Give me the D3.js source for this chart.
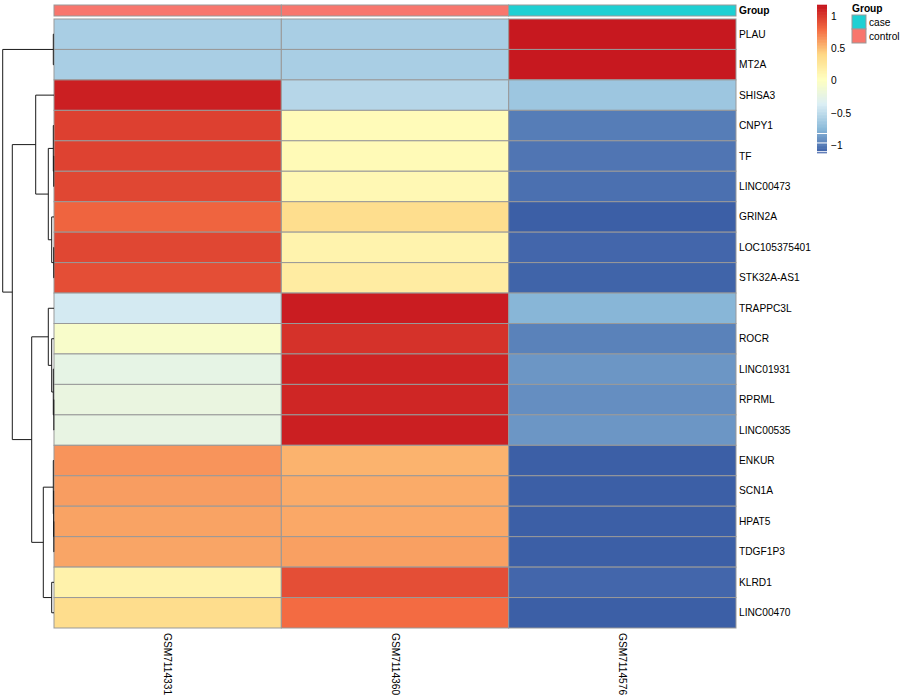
<!DOCTYPE html>
<html>
<head>
<meta charset="utf-8">
<script src="https://cdn.jsdelivr.net/npm/d3@7"></script>
<style>
  html, body { margin: 0; padding: 0; background: #fff; }
  svg { display: block; font-family: "Liberation Sans", Arial, Helvetica, sans-serif; }
</style>
</head>
<body>
<svg id="chart" width="900" height="700"></svg>
<script>
// ---------------- DATA ----------------
const genes = ["PLAU","MT2A","SHISA3","CNPY1","TF","LINC00473","GRIN2A","LOC105375401","STK32A-AS1",
  "TRAPPC3L","ROCR","LINC01931","RPRML","LINC00535","ENKUR","SCN1A","HPAT5","TDGF1P3","KLRD1","LINC00470"];
const samples = ["GSM7114331","GSM7114360","GSM7114576"];
const sampleGroup = ["control","control","case"];
const groupLevels = ["case","control"];
const groupColors = ["#1ED0D3","#F8766D"];

const valuesGSM7114331 = [-0.59,-0.59,1.12,0.98,0.97,0.95,0.83,0.95,0.92,-0.39,-0.05,-0.24,-0.20,-0.22,0.65,0.62,0.60,0.59,0.16,0.36];
const valuesGSM7114360 = [-0.59,-0.59,-0.53,0.07,0.08,0.10,0.35,0.15,0.22,1.13,1.04,1.10,1.09,1.12,0.54,0.57,0.58,0.61,0.92,0.80];
const valuesGSM7114576 = [1.15,1.15,-0.65,-0.98,-1.01,-1.03,-1.10,-1.07,-1.08,-0.75,-0.96,-0.88,-0.91,-0.88,-1.10,-1.10,-1.10,-1.10,-1.07,-1.10];

const legendTicks = [-1,-0.5,0,0.5,1];
const valueRange = [-1.11, 1.17];
const paletteColors = ["#3A5CA5","#8CBBDA","#DCEFF5","#FFFFBF","#FED885","#F46D43","#C5131D"];

// row dendrogram (merge heights)
const rowTree = {h:51.3, c:[
  {h:0.7, c:["PLAU","MT2A"]},
  {h:41.7, c:[
    {h:18.3, c:["SHISA3",
      {h:5.7, c:[
        {h:0.7, c:["CNPY1", {h:0.3, c:["TF","LINC00473"]}]},
        {h:2.3, c:["GRIN2A", {h:0.3, c:["LOC105375401","STK32A-AS1"]}]}
      ]}
    ]},
    {h:22.3, c:[
      {h:5.7, c:["TRAPPC3L",
        {h:2.3, c:["ROCR",
          {h:0.7, c:["LINC01931", {h:0.2, c:["RPRML","LINC00535"]}]}
        ]}
      ]},
      {h:10.7, c:[
        {h:0.7, c:["ENKUR", {h:0.4, c:["SCN1A", {h:0.2, c:["HPAT5","TDGF1P3"]}]}]},
        {h:2.3, c:["KLRD1","LINC00470"]}
      ]}
    ]}
  ]}
]};

// ---------------- LAYOUT ----------------
const svg = d3.select("#chart");
const heat = {left: 54, right: 736, top: 19, bottom: 628};
const annot = {top: 5, bottom: 16};
const fontSize = 10.2;
const borderColor = "#999999";

const matrix = [valuesGSM7114331, valuesGSM7114360, valuesGSM7114576];

const x = d3.scaleBand().domain(samples).range([heat.left, heat.right]);
const y = d3.scaleBand().domain(genes).range([heat.top, heat.bottom]);

const paletteDomain = d3.range(paletteColors.length).map(i =>
  valueRange[0] + i * (valueRange[1] - valueRange[0]) / (paletteColors.length - 1));
const color = d3.scaleLinear().domain(paletteDomain).range(paletteColors).interpolate(d3.interpolateRgb).clamp(true);
const groupColor = d3.scaleOrdinal().domain(groupLevels).range(groupColors);

// cells
const cells = [];
samples.forEach((s, j) => genes.forEach((g, i) => cells.push({s, g, v: matrix[j][i]})));
svg.append("g").selectAll("rect").data(cells).join("rect")
  .attr("x", d => x(d.s)).attr("y", d => y(d.g))
  .attr("width", x.bandwidth()).attr("height", y.bandwidth())
  .attr("fill", d => color(d.v))
  .attr("stroke", borderColor).attr("stroke-width", 1);

// annotation bar
svg.append("g").selectAll("rect").data(samples).join("rect")
  .attr("x", d => x(d)).attr("y", annot.top)
  .attr("width", x.bandwidth()).attr("height", annot.bottom - annot.top)
  .attr("fill", (d, i) => groupColor(sampleGroup[i]))
  .attr("stroke", borderColor).attr("stroke-width", 1);

svg.append("text").attr("x", heat.right + 3).attr("y", (annot.top + annot.bottom) / 2 + 3.5)
  .attr("font-size", fontSize).attr("font-weight", "bold").text("Group");

// row labels
svg.append("g").selectAll("text").data(genes).join("text")
  .attr("x", heat.right + 3).attr("y", d => y(d) + y.bandwidth() / 2 + 3.5)
  .attr("font-size", fontSize).attr("fill", "#000").text(d => d);

// column labels
svg.append("g").selectAll("text").data(samples).join("text")
  .attr("transform", d => `translate(${x(d) + x.bandwidth() / 2 - 3.4},${heat.bottom + 5}) rotate(90)`)
  .attr("font-size", fontSize).attr("fill", "#000").text(d => d);

// dendrogram
const hScale = d3.scaleLinear().domain([0, rowTree.h]).range([heat.left, 2.7]);
function nodeY(n) {
  if (typeof n === "string") return y(n) + y.bandwidth() / 2;
  return (nodeY(n.c[0]) + nodeY(n.c[1])) / 2;
}
function nodeH(n) { return typeof n === "string" ? 0 : n.h; }
const segs = [];
(function walk(n) {
  if (typeof n === "string") return;
  const xn = hScale(n.h);
  const y0 = nodeY(n.c[0]), y1 = nodeY(n.c[1]);
  segs.push([[xn, y0], [xn, y1]]);
  n.c.forEach(ch => {
    const yc = nodeY(ch);
    segs.push([[xn, yc], [hScale(nodeH(ch)), yc]]);
    walk(ch);
  });
})(rowTree);
svg.append("g").selectAll("path").data(segs).join("path")
  .attr("d", d => d3.line()(d))
  .attr("stroke", "#1a1a1a").attr("stroke-width", 1).attr("fill", "none");

// color legend
const leg = {x: 817, w: 10, top: 5, bottom: 153};
const ly = d3.scaleLinear().domain(valueRange).range([leg.bottom, leg.top]);
const nSteps = 100;
const stepVals = d3.range(nSteps).map(i => valueRange[0] + (i + 0.5) * (valueRange[1] - valueRange[0]) / nSteps);
const stepH = (leg.bottom - leg.top) / nSteps;
svg.append("g").selectAll("rect").data(stepVals).join("rect")
  .attr("x", leg.x).attr("width", leg.w)
  .attr("y", d => ly(d) - stepH / 2 - 0.3).attr("height", stepH + 0.6)
  .attr("fill", d => color(d));
// thin white rendering gaps near the bottom of the colour bar (as in the reference)
const legendGaps = [-0.81, -0.955, -1.09];
svg.append("g").selectAll("rect").data(legendGaps).join("rect")
  .attr("x", leg.x).attr("width", leg.w)
  .attr("y", d => ly(d) - 0.5).attr("height", 1)
  .attr("fill", "#ffffff");
svg.append("g").selectAll("text").data(legendTicks).join("text")
  .attr("x", leg.x + leg.w + 4).attr("y", d => ly(d) + 3.5)
  .attr("font-size", fontSize).text(d => d3.format("")(d));

// group legend
const gl = {x: 852, top: 15, box: 14};
svg.append("text").attr("x", gl.x).attr("y", 12).attr("font-size", fontSize)
  .attr("font-weight", "bold").text("Group");
svg.append("g").selectAll("rect").data(groupLevels).join("rect")
  .attr("x", gl.x).attr("y", (d, i) => gl.top + i * gl.box)
  .attr("width", gl.box).attr("height", gl.box)
  .attr("fill", d => groupColor(d)).attr("stroke", borderColor).attr("stroke-width", 1);
svg.append("g").selectAll("text").data(groupLevels).join("text")
  .attr("x", gl.x + gl.box + 3).attr("y", (d, i) => gl.top + i * gl.box + gl.box / 2 + 3.5)
  .attr("font-size", fontSize).text(d => d);
</script>
</body>
</html>
